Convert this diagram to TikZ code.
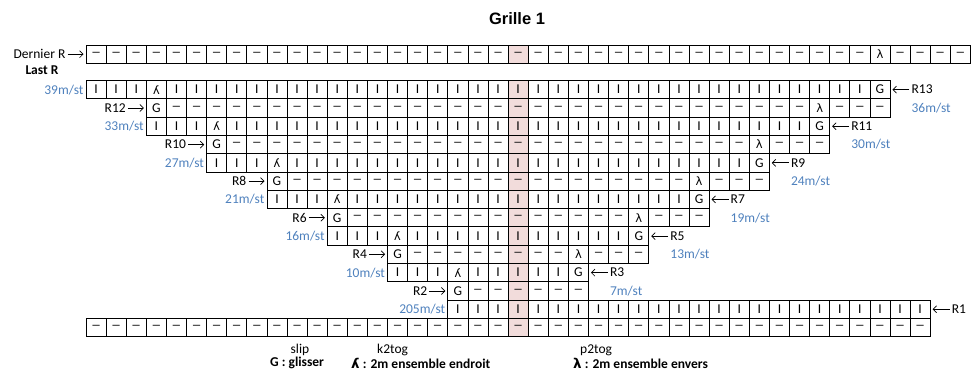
\documentclass[tikz,border=0pt]{standalone}
\usepackage{fontspec}
\usepackage{graphicx}
\setmainfont{Carlito}
\newfontfamily\titlefont{Liberation Sans}
\newfontfamily\symfont{DejaVu Sans}
\usetikzlibrary{arrows.meta}
\definecolor{pinkc}{RGB}{242,220,219}
\definecolor{bluec}{RGB}{79,129,189}
\newcommand\ktog{\reflectbox{{\symfont\fontsize{11.5}{13}\selectfont λ}}}
\newcommand\ptog{{\symfont\fontsize{11.5}{13}\selectfont λ}}
\newcommand\purl{\scalebox{1.5}[1]{–}}
\newcommand\knit{I}
% #1 name, #2 y top, #3 first col, #4 last col, #5 default symbol, #6 G col, #7 k2tog col, #8 p2tog col
\newcommand\chartrow[8]{%
  \foreach \c in {#3,...,#4}{%
    \ifnum\c=#6\relax \def\cellsym{G}\else
      \ifnum\c=#7\relax \def\cellsym{\ktog}\else
        \ifnum\c=#8\relax \def\cellsym{\ptog}\else
          \def\cellsym{#5}\fi\fi\fi
    \ifnum\c=21\relax \def\cellfill{pinkc}\else\def\cellfill{white}\fi
    \node[cellbox,fill=\cellfill] (#1-\c) at ({86+(\c+0.5)*20.1},{#2+9.15}) {\cellsym};
  }}
\begin{document}
\begin{tikzpicture}[x=1pt,y=-1pt,
  every node/.style={font=\fontsize{13.5}{15}\selectfont},
  cellbox/.style={draw=black,line width=0.8pt,minimum width=20.1pt,minimum height=18.3pt,inner sep=0pt,anchor=center},
  lbl/.style={inner sep=1pt},
  mst/.style={inner sep=1pt,text=bluec},
  arr/.style={-{Straight Barb[length=3.5pt,width=7pt]},line width=0.7pt,shorten <=1pt,shorten >=2pt}]
\useasboundingbox (0,0) rectangle (976,379);

\node[font=\fontsize{16.5}{18}\selectfont\titlefont\bfseries] (title) at (517,19) {Grille 1};

% chart rows
\chartrow{top}{45}{0}{43}{\purl}{-1}{-1}{39}
\chartrow{r13}{80.5}{0}{39}{\knit}{39}{3}{-1}
\chartrow{r12}{98.8}{3}{39}{\purl}{3}{-1}{36}
\chartrow{r11}{117.1}{3}{36}{\knit}{36}{6}{-1}
\chartrow{r10}{135.4}{6}{36}{\purl}{6}{-1}{33}
\chartrow{r9}{153.7}{6}{33}{\knit}{33}{9}{-1}
\chartrow{r8}{172.0}{9}{33}{\purl}{9}{-1}{30}
\chartrow{r7}{190.3}{9}{30}{\knit}{30}{12}{-1}
\chartrow{r6}{208.6}{12}{30}{\purl}{12}{-1}{27}
\chartrow{r5}{226.9}{12}{27}{\knit}{27}{15}{-1}
\chartrow{r4}{245.2}{15}{27}{\purl}{15}{-1}{24}
\chartrow{r3}{263.5}{15}{24}{\knit}{24}{18}{-1}
\chartrow{r2}{281.8}{18}{24}{\purl}{18}{-1}{-1}
\chartrow{r1}{300.1}{18}{41}{\knit}{-1}{-1}{-1}
\chartrow{bot}{318.4}{0}{41}{\purl}{-1}{-1}{-1}

% last row labels
\node[lbl,anchor=east] (dern) at ([xshift=-19pt]top-0.west) {Dernier R};
\draw[arr] (dern.east) -- (top-0.west);
\node[lbl] (last) at (42,70) {\textbf{Last R}};

% even rows: arrow from the left, count on the right
\foreach \n/\f/\l/\mm in {12/3/39/36,10/6/36/30,8/9/33/24,6/12/30/19,4/15/27/13,2/18/24/7}{
  \node[lbl,anchor=east] (lab\n) at ([xshift=-19pt]r\n-\f.west) {R\n};
  \draw[arr] (lab\n.east) -- (r\n-\f.west);
  \node[mst,anchor=west] (ms\n) at ([xshift=20pt]r\n-\l.east) {\mm m/st};
}
% odd rows: count on the left, arrow from the right
\foreach \n/\f/\l/\mm in {13/0/39/39,11/3/36/33,9/6/33/27,7/9/30/21,5/12/27/16,3/15/24/10,1/18/41/205}{
  \node[mst,anchor=east] (ms\n) at ([xshift=-1pt]r\n-\f.west) {\mm m/st};
  \node[lbl,anchor=west] (lab\n) at ([xshift=20pt]r\n-\l.east) {R\n};
  \draw[arr] (lab\n.west) -- (r\n-\l.east);
}

% legend
\node[lbl] (slip) at (300,350) {slip};
\node[lbl,anchor=west] (glis) at (269,363) {\textbf{G : glisser}};
\node[lbl,anchor=west] (k2) at (376,350) {k2tog};
\node[lbl,anchor=west] (kdesc) at (350,363) {\textbf{\reflectbox{{\symfont\bfseries λ}} : 2m ensemble endroit}};
\node[lbl,anchor=west] (p2) at (579,350) {p2tog};
\node[lbl,anchor=west] (pdesc) at (572,363) {\textbf{{\symfont\bfseries λ} : 2m ensemble envers}};
\end{tikzpicture}
\end{document}
